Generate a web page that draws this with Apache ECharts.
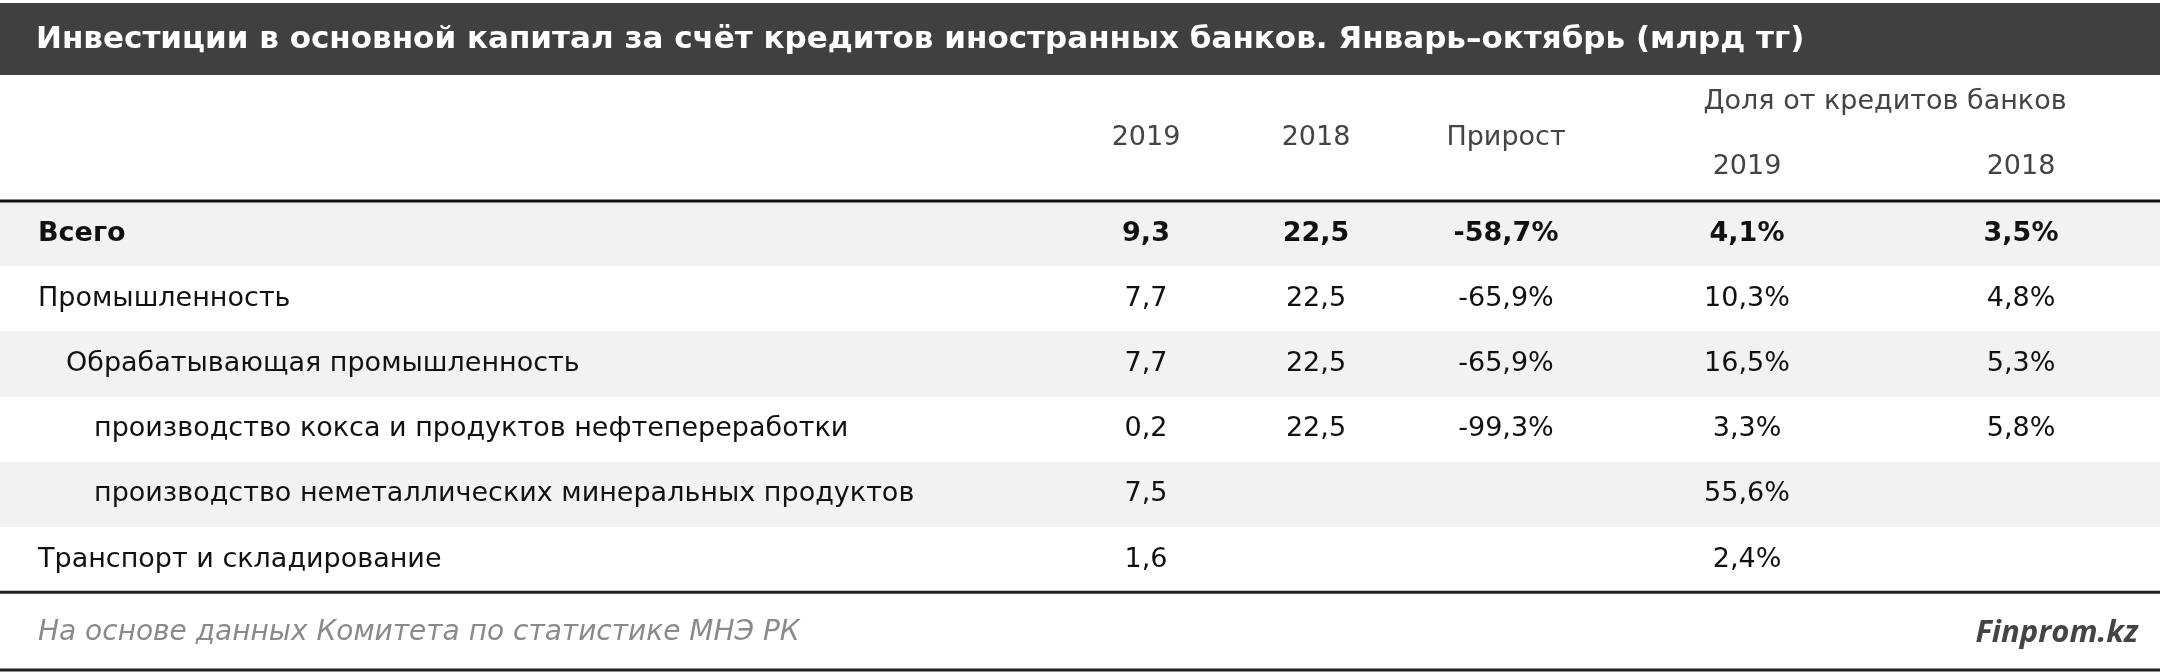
<!DOCTYPE html>
<html>
<head>
<meta charset="utf-8">
<script src="https://cdn.jsdelivr.net/npm/echarts@6/dist/echarts.min.js"></script>
<style>html,body{margin:0;padding:0;background:#fff}#chart{width:2160px;height:672px}</style>
</head>
<body>
<div id="chart"></div>
<script>
const titleText = "Инвестиции в основной капитал за счёт кредитов иностранных банков. Январь–октябрь (млрд тг)";
const categories = ["Всего", "Промышленность", "Обрабатывающая промышленность",
  "производство кокса и продуктов нефтепереработки",
  "производство неметаллических минеральных продуктов", "Транспорт и складирование"];
const indentLevel = [0, 0, 1, 2, 2, 0];
const values2019 = ["9,3", "7,7", "7,7", "0,2", "7,5", "1,6"];
const values2018 = ["22,5", "22,5", "22,5", "22,5", "", ""];
const growth = ["-58,7%", "-65,9%", "-65,9%", "-99,3%", "", ""];
const share2019 = ["4,1%", "10,3%", "16,5%", "3,3%", "55,6%", "2,4%"];
const share2018 = ["3,5%", "4,8%", "5,3%", "5,8%", "", ""];
const colHeaders = ["2019", "2018", "Прирост"];
const shareHeader = "Доля от кредитов банков";
const shareYears = ["2019", "2018"];
const sourceText = "На основе данных Комитета по статистике МНЭ РК";
const brandText = "Finprom.kz";

const font = "'DejaVu Sans', sans-serif";
const colX = [1146, 1316, 1506, 1747, 2021];
const rowTop = 201, rowH = 65.2;
const els = [];

els.push({type: 'rect', shape: {x: 0, y: 3, width: 2160, height: 72}, style: {fill: '#404040'}});
els.push({type: 'text', x: 36, y: 40, style: {text: titleText, fill: '#fff', font: "bold 31px " + font, textVerticalAlign: 'middle'}});

colHeaders.forEach((h, i) => els.push({type: 'text', x: colX[i], y: 138,
  style: {text: h, fill: '#444', font: "27px " + font, textAlign: 'center', textVerticalAlign: 'middle'}}));
els.push({type: 'text', x: 1885, y: 102, style: {text: shareHeader, fill: '#444', font: "27px " + font, textAlign: 'center', textVerticalAlign: 'middle'}});
shareYears.forEach((h, i) => els.push({type: 'text', x: colX[3 + i], y: 167,
  style: {text: h, fill: '#444', font: "27px " + font, textAlign: 'center', textVerticalAlign: 'middle'}}));

categories.forEach((c, r) => {
  const y0 = rowTop + r * rowH, yc = y0 + rowH / 2;
  if (r % 2 === 0) els.push({type: 'rect', shape: {x: 0, y: y0, width: 2160, height: rowH}, style: {fill: '#f2f2f2'}});
  const weight = r === 0 ? 'bold ' : '';
  const st = (t, x, align) => ({type: 'text', x: x, y: yc,
    style: {text: t, fill: '#111', font: weight + "27px " + font, textAlign: align, textVerticalAlign: 'middle'}});
  els.push(st(c, 38 + indentLevel[r] * 28, 'left'));
  [values2019, values2018, growth, share2019, share2018].forEach((arr, i) => els.push(st(arr[r], colX[i], 'center')));
});

els.push({type: 'line', shape: {x1: 0, y1: rowTop, x2: 2160, y2: rowTop}, style: {stroke: '#111', lineWidth: 3}});
const bottom = rowTop + categories.length * rowH;
els.push({type: 'line', shape: {x1: 0, y1: bottom, x2: 2160, y2: bottom}, style: {stroke: '#222', lineWidth: 3}});
els.push({type: 'line', shape: {x1: 0, y1: 670, x2: 2160, y2: 670}, style: {stroke: '#222', lineWidth: 3}});
els.push({type: 'text', x: 38, y: 633, style: {text: sourceText, fill: '#8a8a8a', font: "italic 28px " + font, textVerticalAlign: 'middle'}});
els.push({type: 'text', x: 2138, y: 633, style: {text: brandText, fill: '#444', font: "italic bold 31px 'Open Sans', sans-serif", textAlign: 'right', textVerticalAlign: 'middle'}});

const myChart = echarts.init(document.getElementById('chart'));
myChart.setOption({animation: false, graphic: {elements: els}});
</script>
</body>
</html>
